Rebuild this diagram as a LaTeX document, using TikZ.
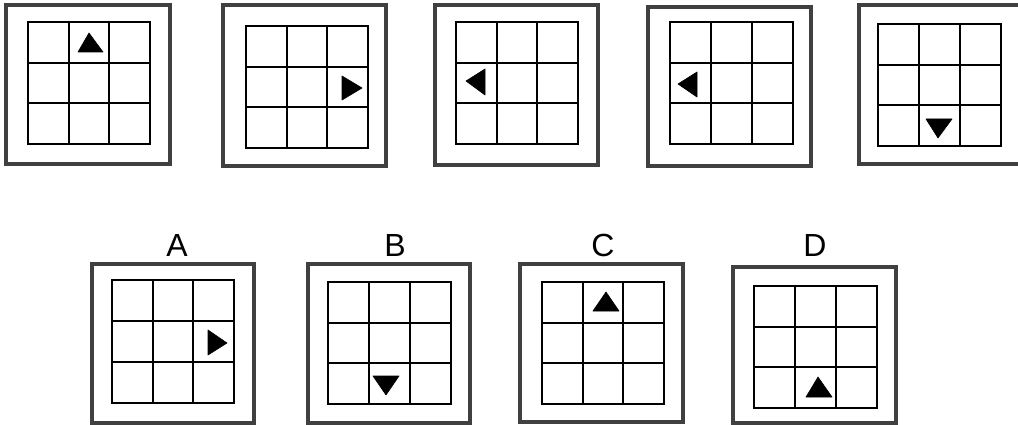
\documentclass[tikz,border=0pt]{standalone}
\usepackage{fontspec}
\setmainfont{Liberation Sans}
\tikzset{
  outerbox/.style={draw=black!75, line width=3.1pt},
  gridline/.style={draw=black, line width=2.3pt},
  marker/.style={fill=black, draw=black, line width=0.6pt, line join=round},
  optlabel/.style={anchor=base, inner sep=0pt, font=\fontsize{32}{36}\selectfont}
}
\newcommand{\mypanel}[8]{%
  \draw[outerbox] (#1,#2) rectangle (#3,#4);
  \pgfmathsetmacro\pxa{#5+(#7-#5)/3}%
  \pgfmathsetmacro\pxb{#5+2*(#7-#5)/3}%
  \pgfmathsetmacro\pya{#6+(#8-#6)/3}%
  \pgfmathsetmacro\pyb{#6+2*(#8-#6)/3}%
  \draw[gridline] (#5,#6) rectangle (#7,#8);
  \draw[gridline] (\pxa,#6) -- (\pxa,#8) (\pxb,#6) -- (\pxb,#8)
                  (#5,\pya) -- (#7,\pya) (#5,\pyb) -- (#7,\pyb);
}
\begin{document}
\begin{tikzpicture}[x=1pt,y=-1pt]
\useasboundingbox (0,0) rectangle (1018,425);
\clip (0,0) rectangle (1018,425);
% top row
\mypanel{6}{5}{170}{164}{28}{22}{150}{144}
\fill[marker] (89,33) -- (78,52) -- (103,52) -- cycle;
\mypanel{223}{5}{386}{166}{246}{26}{368}{148}
\fill[marker] (342,76) -- (342,100) -- (362,88) -- cycle;
\mypanel{435}{5}{598}{165}{456}{22}{578}{144}
\fill[marker] (466,81) -- (485,69) -- (485,95) -- cycle;
\mypanel{648}{7}{811}{166}{670}{22}{793}{144}
\fill[marker] (678,84) -- (697,72) -- (697,97) -- cycle;
\mypanel{859}{5}{1032}{164}{878}{24}{1001}{146}
\fill[marker] (926,119) -- (952,119) -- (938,138) -- cycle;
% bottom row
\node[optlabel] (la) at (177,256) {A};
\mypanel{92}{264}{254}{423}{112}{280}{234}{403}
\fill[marker] (208,330) -- (208,355) -- (227,343) -- cycle;
\node[optlabel] (lb) at (395,256) {B};
\mypanel{308}{264}{470}{423}{328}{282}{451}{404}
\fill[marker] (373,376) -- (399,376) -- (386,395) -- cycle;
\node[optlabel] (lc) at (603,256) {C};
\mypanel{520}{264}{683}{422}{542}{282}{664}{404}
\fill[marker] (606,292) -- (593,311) -- (619,311) -- cycle;
\node[optlabel] (ld) at (815,256) {D};
\mypanel{733}{267}{896}{423}{754}{286}{877}{408}
\fill[marker] (818,377) -- (806,397) -- (832,397) -- cycle;
\end{tikzpicture}
\end{document}
